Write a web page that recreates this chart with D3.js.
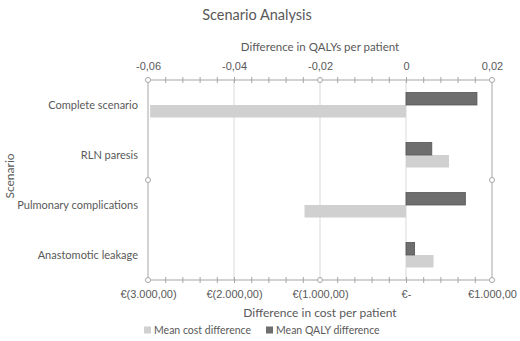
<!DOCTYPE html>
<html>
<head>
<meta charset="utf-8">
<script src="https://cdn.jsdelivr.net/npm/d3@7"></script>
<style>
  body { margin: 0; background: #fff; }
  svg { font-family: Lato, "Open Sans", sans-serif; }
  text { fill: #595959; }
</style>
</head>
<body>
<div id="chart"></div>
<script>
// scenario names, top to bottom
var scenarios = ["Complete scenario", "RLN paresis", "Pulmonary complications", "Anastomotic leakage"];
// mean QALY difference per patient
var qalyDiff = [0.0165, 0.006, 0.0138, 0.002];
// mean cost difference per patient (euro)
var costDiff = [-2975, 500, -1180, 320];
// axis ticks
var qalyTicks = [-0.06, -0.04, -0.02, 0, 0.02];
var qalyTickLabels = ["-0,06", "-0,04", "-0,02", "0", "0,02"];
var costTicks = [-3000, -2000, -1000, 0, 1000];
var costTickLabels = ["€(3.000,00)", "€(2.000,00)", "€(1.000,00)", "€-", "€1.000,00"];
var legendLabels = ["Mean cost difference", "Mean QALY difference"];

var W = 520, H = 341;
var margin = {top: 80, right: 28, bottom: 61, left: 148};
var width = W - margin.left - margin.right,
    height = H - margin.top - margin.bottom;

var lightCol = "#d0d0d0", darkCol = "#6e6e6e";

var svg = d3.select("#chart").append("svg")
  .attr("width", W)
  .attr("height", H);

var main = svg.append("g")
  .attr("transform", "translate(" + margin.left + "," + margin.top + ")");

// both axes share the same pixel range
var xq = d3.scaleLinear().domain([-0.06, 0.02]).range([0, width]);
var xc = d3.scaleLinear().domain([-3000, 1000]).range([0, width]);

var y = d3.scaleBand().domain(scenarios).range([0, height]).paddingInner(0.5).paddingOuter(0.25);

// gridlines
main.append("g").selectAll("line")
  .data(qalyTicks.slice(1, 4))
  .enter().append("line")
    .attr("x1", function(d) { return xq(d); })
    .attr("x2", function(d) { return xq(d); })
    .attr("y1", 0).attr("y2", height)
    .attr("stroke", "#d9d9d9").attr("stroke-width", 1);

// side lines of plot
[0, width].forEach(function(x) {
  main.append("line")
    .attr("x1", x).attr("x2", x).attr("y1", 0).attr("y2", height)
    .attr("stroke", "#a6a6a6");
});

// bars
var half = y.bandwidth() / 2;
main.append("g").selectAll("rect")
  .data(scenarios)
  .enter().append("rect")
    .attr("x", function(d, i) { return Math.min(xc(0), xc(costDiff[i])); })
    .attr("width", function(d, i) { return Math.abs(xc(costDiff[i]) - xc(0)); })
    .attr("y", function(d) { return y(d) + half; })
    .attr("height", half)
    .attr("fill", lightCol);

main.append("g").selectAll("rect")
  .data(scenarios)
  .enter().append("rect")
    .attr("x", function(d, i) { return Math.min(xq(0), xq(qalyDiff[i])); })
    .attr("width", function(d, i) { return Math.abs(xq(qalyDiff[i]) - xq(0)); })
    .attr("y", function(d) { return y(d); })
    .attr("height", half)
    .attr("fill", darkCol)
    .attr("stroke", "#555").attr("stroke-width", 0.8);

// top axis (QALY)
var topAxis = main.append("g").call(
  d3.axisTop(xq).tickValues(d3.range(-0.06, 0.0201, 0.004)).tickSize(3)
    .tickFormat(function(d) {
      var i = qalyTicks.findIndex(function(t) { return Math.abs(t - d) < 1e-9; });
      return i >= 0 ? qalyTickLabels[i] : "";
    }));
topAxis.select(".domain").attr("d", "M0,0H" + width).attr("stroke", "#a6a6a6");
topAxis.selectAll(".tick line").attr("y1", 3).attr("y2", -3).attr("stroke", "#a6a6a6");
topAxis.selectAll(".tick text").attr("y", -10).attr("font-size", 11).attr("fill", "#595959");

// bottom axis (cost)
var botAxis = main.append("g").attr("transform", "translate(0," + height + ")").call(
  d3.axisBottom(xc).tickValues(d3.range(-3000, 1001, 200)).tickSize(3)
    .tickFormat(function(d) {
      var i = costTicks.indexOf(Math.round(d));
      return i >= 0 ? costTickLabels[i] : "";
    }));
botAxis.select(".domain").attr("d", "M0,0H" + width).attr("stroke", "#a6a6a6");
botAxis.selectAll(".tick line").attr("y1", -3).attr("y2", 3).attr("stroke", "#a6a6a6");
botAxis.selectAll(".tick text").attr("y", 10).attr("font-size", 11).attr("fill", "#595959");

// category labels
main.append("g").selectAll("text")
  .data(scenarios)
  .enter().append("text")
    .attr("x", -10)
    .attr("y", function(d) { return y(d) + half; })
    .attr("text-anchor", "end")
    .attr("dy", "0.32em")
    .attr("font-size", 11)
    .text(function(d) { return d; });

// selection handles on the chart frame
var handles = [[0, 0], [width / 2, 0], [width, 0], [0, height / 2], [width, height / 2],
               [0, height], [width / 2, height], [width, height]];
main.append("g").selectAll("circle")
  .data(handles)
  .enter().append("circle")
    .attr("cx", function(d) { return d[0]; })
    .attr("cy", function(d) { return d[1]; })
    .attr("r", 2.5)
    .attr("fill", "#fff").attr("stroke", "#a6a6a6");

// titles
svg.append("text")
  .attr("x", 257).attr("y", 20)
  .attr("text-anchor", "middle")
  .attr("font-size", 14.5)
  .text("Scenario Analysis");

svg.append("text")
  .attr("x", margin.left + width / 2).attr("y", 51)
  .attr("text-anchor", "middle")
  .attr("font-size", 11.5)
  .text("Difference in QALYs per patient");

svg.append("text")
  .attr("x", margin.left + width / 2).attr("y", 317)
  .attr("text-anchor", "middle")
  .attr("font-size", 12)
  .text("Difference in cost per patient");

svg.append("text")
  .attr("transform", "translate(14,176)rotate(-90)")
  .attr("text-anchor", "middle")
  .attr("font-size", 12)
  .text("Scenario");

// legend
var legend = svg.append("g").attr("transform", "translate(144,330)")
  .selectAll("g")
  .data(legendLabels)
  .enter().append("g")
    .attr("transform", function(d, i) { return "translate(" + (i * 122) + ",0)"; });

legend.append("rect")
  .attr("x", 0).attr("y", -3.5)
  .attr("width", 7).attr("height", 7)
  .attr("fill", function(d, i) { return i == 0 ? lightCol : darkCol; });

legend.append("text")
  .attr("x", 10).attr("y", 0)
  .attr("dy", "0.35em")
  .attr("font-size", 10.5)
  .text(function(d) { return d; });
</script>
</body>
</html>
